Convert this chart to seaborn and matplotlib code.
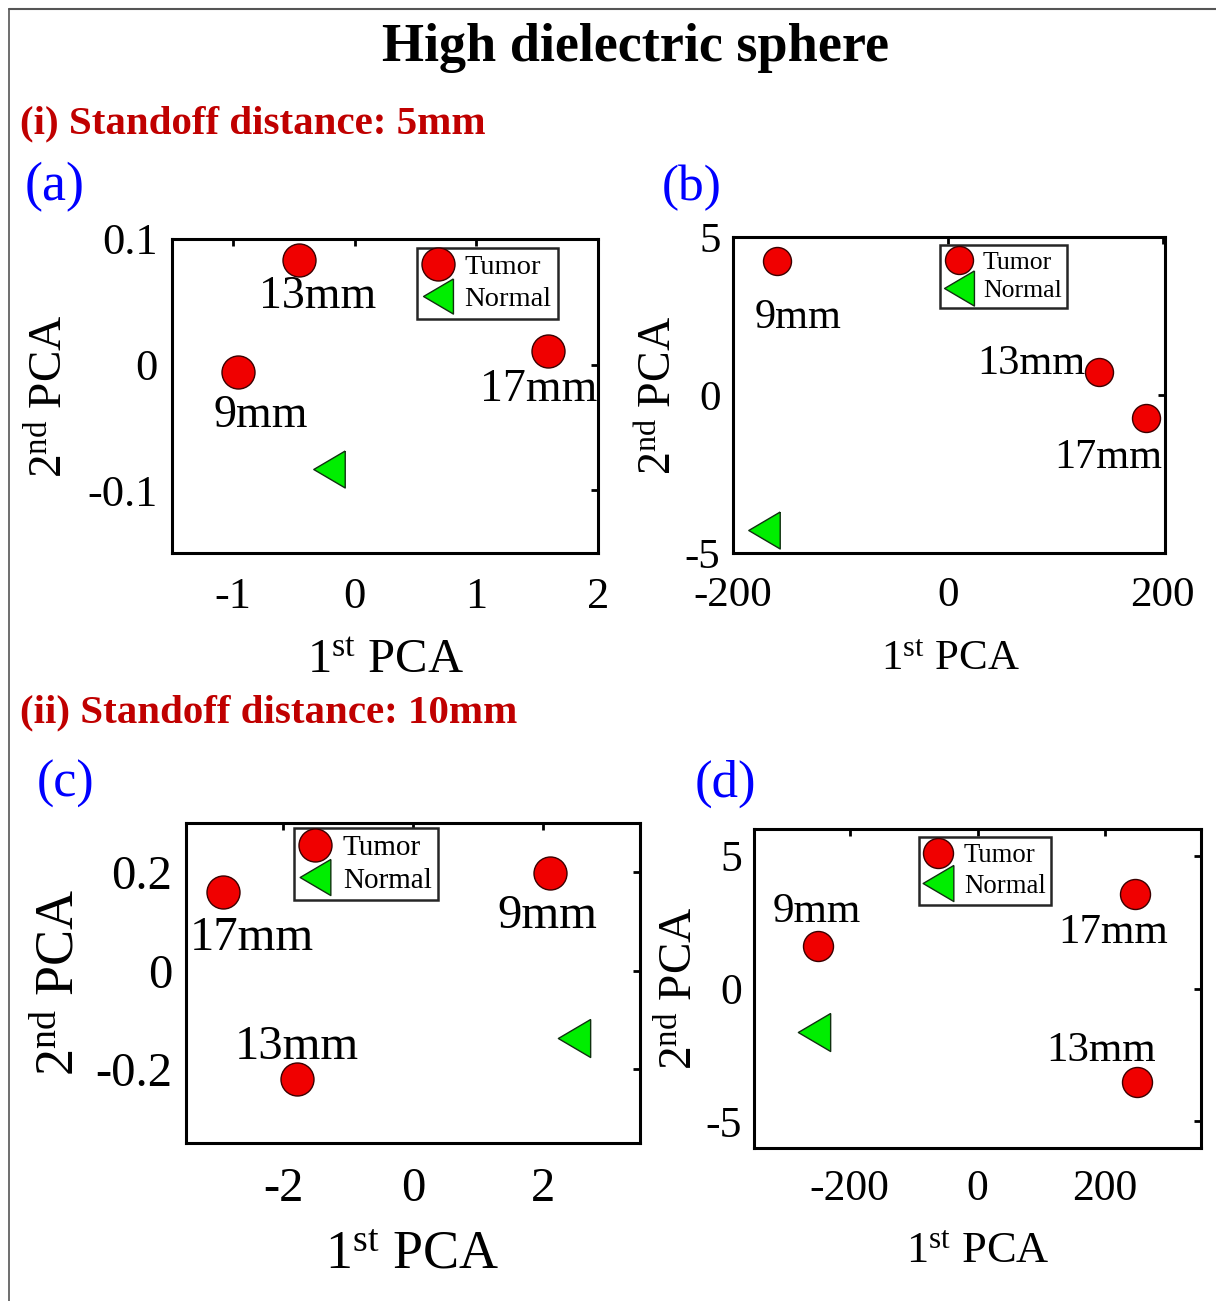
import numpy as np
import pandas as pd
import matplotlib
matplotlib.use("Agg")
import matplotlib.pyplot as plt
from matplotlib.lines import Line2D
from matplotlib.markers import MarkerStyle
import seaborn as sns

# ---------------- data ----------------
tumor_labels_a = ["9mm", "13mm", "17mm"]
tumor_x_a = [-0.96, -0.455, 1.59]
tumor_y_a = [-0.006, 0.083, 0.011]
normal_x_a = [-0.21]
normal_y_a = [-0.083]

tumor_labels_b = ["9mm", "13mm", "17mm"]
tumor_x_b = [-159, 141, 184]
tumor_y_b = [4.23, 0.72, -0.72]
normal_x_b = [-171]
normal_y_b = [-4.27]

tumor_labels_c = ["9mm", "13mm", "17mm"]
tumor_x_c = [2.12, -1.79, -2.93]
tumor_y_c = [0.199, -0.221, 0.159]
normal_x_c = [2.49]
normal_y_c = [-0.137]

tumor_labels_d = ["9mm", "13mm", "17mm"]
tumor_x_d = [-250, 249, 246]
tumor_y_d = [1.58, -3.51, 3.54]
normal_x_d = [-256]
normal_y_d = [-1.62]

legend_labels = ["Tumor", "Normal"]

# ---------------- style ----------------
sns.set_theme(style="white")
plt.rcParams["font.family"] = ["Liberation Serif", "DejaVu Serif"]
plt.rcParams["mathtext.fontset"] = "custom"
plt.rcParams["mathtext.rm"] = "Liberation Serif"
plt.rcParams["mathtext.it"] = "Liberation Serif:italic"
plt.rcParams["mathtext.bf"] = "Liberation Serif:bold"
plt.rcParams["text.color"] = "black"
plt.rcParams["axes.labelcolor"] = "black"

W, H = 1216, 1301
fig = plt.figure(figsize=(W / 100, H / 100), dpi=100)
fig.patch.set_facecolor("white")
PX = 72 / 100  # points per pixel


def rect(l, t, r, b):
    return [l / W, 1 - b / H, (r - l) / W, (b - t) / H]


RED = "#F00000"
GREEN = "#00EE00"
EDGE = "#3a0000"
tri = MarkerStyle([(0.85, 1.0), (-0.85, 0.0), (0.85, -1.0), (0.85, 1.0)])

panels = [
    dict(rect=rect(172, 239, 598, 553), xlim=(-1.5, 2), ylim=(-0.15, 0.1),
         xt=[-1, 0, 1, 2], yt=[-0.1, 0, 0.1], ytl=["-0.1", "0", "0.1"],
         xtl=["-1", "0", "1", "2"],
         tx=tumor_x_a, ty=tumor_y_a, tl=tumor_labels_a, nx=normal_x_a, ny=normal_y_a,
         offs={"13mm": (18, -48), "9mm": (23, -55), "17mm": (-9, -50)},
         lfs=33, tfs=32, xlfs=35, ylfs=34, cs=33, ts=37, legfs=20.5,
         leg=(417, 248), xpad=17, ypad=10,
         xlab=(385, 660), ylab=(50, 396)),
    dict(rect=rect(733, 237, 1165, 553), xlim=(-200, 202), ylim=(-5, 5),
         xt=[-200, 0, 200], yt=[-5, 0, 5], ytl=["-5", "0", "5"],
         xtl=["-200", "0", "200"],
         tx=tumor_x_b, ty=tumor_y_b, tl=tumor_labels_b, nx=normal_x_b, ny=normal_y_b,
         offs={"9mm": (21, -67), "13mm": (-68, -2), "17mm": (-37, -50)},
         lfs=30.5, tfs=31, xlfs=31, ylfs=33, cs=28, ts=37, legfs=18.5,
         leg=(940, 245), xpad=17, ypad=9,
         xlab=(950, 660), ylab=(660, 396)),
    dict(rect=rect(186, 823, 640, 1143), xlim=(-3.5, 3.5), ylim=(-0.35, 0.3),
         xt=[-2, 0, 2], yt=[-0.2, 0, 0.2], ytl=["-0.2", "0", "0.2"],
         xtl=["-2", "0", "2"],
         tx=tumor_x_c, ty=tumor_y_c, tl=tumor_labels_c, nx=normal_x_c, ny=normal_y_c,
         offs={"17mm": (29, -58), "9mm": (-3, -55), "13mm": (0, 20)},
         lfs=35, tfs=35, xlfs=39, ylfs=39, cs=33, ts=38, legfs=21,
         leg=(294, 828), xpad=17, ypad=10,
         xlab=(412, 1255), ylab=(60, 983)),
    dict(rect=rect(754, 829, 1201, 1148), xlim=(-350, 350), ylim=(-6, 6),
         xt=[-200, 0, 200], yt=[-5, 0, 5], ytl=["-5", "0", "5"],
         xtl=["-200", "0", "200"],
         tx=tumor_x_d, ty=tumor_y_d, tl=tumor_labels_d, nx=normal_x_d, ny=normal_y_d,
         offs={"9mm": (-1, 24), "17mm": (-21, -49), "13mm": (-35, 21)},
         lfs=31, tfs=31.5, xlfs=32, ylfs=34, cs=30, ts=38, legfs=19.3,
         leg=(919, 837), xpad=15, ypad=8.5,
         xlab=(978, 1252), ylab=(680, 988)),
]

for p in panels:
    ax = fig.add_axes(p["rect"])
    ax.set_facecolor("white")
    l, b, w, h = p["rect"]
    l_px, t_px = l * W, (1 - b - h) * H
    w_px, h_px = w * W, h * H

    df_t = pd.DataFrame({"x": p["tx"], "y": p["ty"], "label": p["tl"]})
    df_n = pd.DataFrame({"x": p["nx"], "y": p["ny"]})
    sns.scatterplot(data=df_t, x="x", y="y", ax=ax, marker="o",
                    s=(p["cs"] * PX) ** 2, color=RED, edgecolor=EDGE,
                    linewidth=1.0, legend=False, zorder=3)
    sns.scatterplot(data=df_n, x="x", y="y", ax=ax, marker=tri,
                    s=(p["ts"] * PX) ** 2, color=GREEN, edgecolor="#103010",
                    linewidth=1.0, legend=False, zorder=3)

    for _, row in df_t.iterrows():
        dx, dy = p["offs"][row["label"]]
        ax.annotate(row["label"], (row["x"], row["y"]),
                    xytext=(dx * PX, dy * PX), textcoords="offset points",
                    ha="center", va="baseline", fontsize=p["lfs"], color="black")

    ax.set_xlim(*p["xlim"])
    ax.set_ylim(*p["ylim"])
    ax.set_xticks(p["xt"])
    ax.set_xticklabels(p["xtl"])
    ax.set_yticks(p["yt"])
    ax.set_yticklabels(p["ytl"])
    ax.tick_params(axis="both", direction="in", top=True, right=True,
                   length=5, width=2, color="black", labelsize=p["tfs"],
                   labelcolor="black")
    ax.tick_params(axis="x", pad=p["xpad"])
    ax.tick_params(axis="y", pad=p["ypad"])
    for sp in ax.spines.values():
        sp.set_visible(True)
        sp.set_color("black")
        sp.set_linewidth(2.2)

    ax.set_xlabel(r"1$^{\mathrm{st}}$ PCA", fontsize=p["xlfs"], va="center",
                  color="black")
    ax.set_ylabel(r"2$^{\mathrm{nd}}$ PCA", fontsize=p["ylfs"], va="center",
                  rotation=90, color="black")
    xlx, xly = p["xlab"]
    ax.xaxis.set_label_coords((xlx - l_px) / w_px, (t_px + h_px - xly) / h_px)
    ylx, yly = p["ylab"]
    ax.yaxis.set_label_coords((ylx - l_px) / w_px, (t_px + h_px - yly) / h_px)

    handles = [
        Line2D([], [], linestyle="none", marker="o", markersize=p["cs"] * PX,
               markerfacecolor=RED, markeredgecolor=EDGE, markeredgewidth=1.0),
        Line2D([], [], linestyle="none", marker=tri, markersize=p["ts"] * PX * 0.95,
               markerfacecolor=GREEN, markeredgecolor="#103010", markeredgewidth=1.0),
    ]
    lx, ly = p["leg"]
    leg = ax.legend(handles, legend_labels, loc="upper left",
                    bbox_to_anchor=((lx - l_px) / w_px, (t_px + h_px - ly) / h_px),
                    fontsize=p["legfs"], frameon=True, fancybox=False,
                    borderpad=0.22, labelspacing=0.22, handlelength=1.0,
                    handletextpad=0.45, borderaxespad=0.0, framealpha=1.0)
    leg.get_frame().set_edgecolor("#262626")
    leg.get_frame().set_linewidth(1.8)
    leg.get_frame().set_facecolor("white")
    for t in leg.get_texts():
        t.set_color("black")
    leg.set_zorder(5)


def ftext(x, y, s, **kw):
    fig.text(x / W, 1 - y / H, s, **kw)


ftext(636, 61, "High dielectric sphere", ha="center", va="baseline",
      fontsize=39, fontweight="bold", color="black")
ftext(20, 133, "(i) Standoff distance: 5mm", ha="left", va="baseline",
      fontsize=29.5, fontweight="bold", color="#C00000")
ftext(20, 722, "(ii) Standoff distance: 10mm", ha="left", va="baseline",
      fontsize=29.5, fontweight="bold", color="#C00000")
ftext(25, 200, "(a)", ha="left", va="baseline", fontsize=39, color="#0000FF")
ftext(662, 200, "(b)", ha="left", va="baseline", fontsize=37, color="#0000FF")
ftext(37, 797, "(c)", ha="left", va="baseline", fontsize=37.5, color="#0000FF")
ftext(695, 797, "(d)", ha="left", va="baseline", fontsize=38, color="#0000FF")

# page frame lines (top and left)
fig.add_artist(Line2D([9 / W, 1.0], [1 - 9 / H, 1 - 9 / H], transform=fig.transFigure,
                      color="#555555", linewidth=1.5))
fig.add_artist(Line2D([9 / W, 9 / W], [0.0, 1 - 9 / H], transform=fig.transFigure,
                      color="#555555", linewidth=1.2))

fig.savefig("out.png", dpi=100, facecolor="white")
